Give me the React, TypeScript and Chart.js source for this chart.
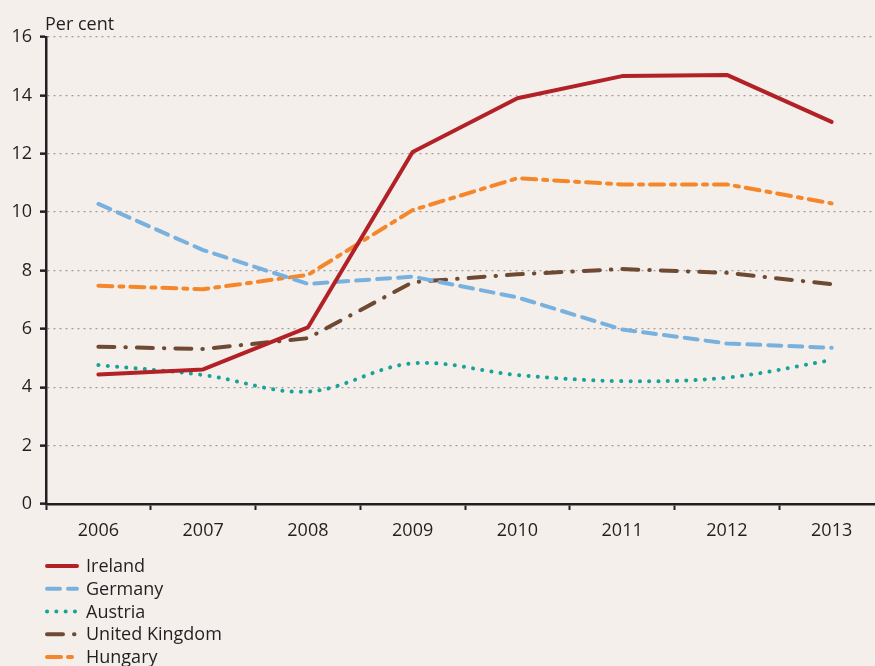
import React, { useEffect, useRef } from 'react';
import { Chart, registerables } from 'chart.js';

Chart.register(...registerables);

const years = ['2006', '2007', '2008', '2009', '2010', '2011', '2012', '2013'];
const ireland = [4.44, 4.61, 6.05, 12.06, 13.9, 14.66, 14.7, 13.09];
const germany = [10.28, 8.7, 7.54, 7.79, 7.08, 5.98, 5.5, 5.35];
const austria = [4.76, 4.42, 3.85, 4.82, 4.42, 4.21, 4.33, 4.93];
const unitedKingdom = [5.39, 5.31, 5.68, 7.6, 7.87, 8.05, 7.92, 7.53];
const hungary = [7.48, 7.36, 7.85, 10.07, 11.16, 10.95, 10.95, 10.3];

const seriesNames = ['Ireland', 'Germany', 'Austria', 'United Kingdom', 'Hungary'];
const yUnit = 'Per cent';

const BG = '#F5EFEC';
const DARK = '#231F20';
const FONT = '"Open Sans", sans-serif';
const FONT_SIZE = 18;

const bgPlugin = {
  id: 'bgFill',
  beforeDraw(chart: any) {
    const ctx = chart.ctx;
    ctx.save();
    ctx.fillStyle = BG;
    ctx.fillRect(0, 0, chart.width, chart.height);
    ctx.restore();
  },
};

const extrasPlugin = {
  id: 'extras',
  afterDraw(chart: any) {
    const ctx = chart.ctx;
    const area = chart.chartArea;
    ctx.save();
    ctx.fillStyle = DARK;
    ctx.font = `${FONT_SIZE}px ${FONT}`;
    ctx.textAlign = 'left';
    ctx.textBaseline = 'alphabetic';
    ctx.fillText(yUnit, area.left - 1, 30);

    const startY = 566;
    const step = 22.75;
    chart.data.datasets.forEach((ds: any, i: number) => {
      const y = startY + i * step;
      ctx.save();
      ctx.strokeStyle = ds.borderColor;
      ctx.lineWidth = ds.borderWidth;
      ctx.lineCap = ds.borderCapStyle || 'butt';
      ctx.setLineDash(ds.borderDash || []);
      ctx.beginPath();
      ctx.moveTo(area.left - 1 + (ds.borderCapStyle === 'round' ? 2 : 0), y);
      ctx.lineTo(area.left + 33 - (ds.borderCapStyle === 'round' ? 2 : 0), y);
      ctx.stroke();
      ctx.restore();
      ctx.fillStyle = DARK;
      ctx.textBaseline = 'middle';
      ctx.fillText(ds.label, area.left + 40, y + 1);
    });
    ctx.restore();
  },
};

export default function App() {
  const ref = useRef<HTMLCanvasElement | null>(null);

  useEffect(() => {
    if (!ref.current) return;
    document.body.style.background = BG;
    const chart = new Chart(ref.current, {
      type: 'line',
      data: {
        labels: years,
        datasets: [
          {
            label: seriesNames[0],
            data: ireland,
            borderColor: '#B22126',
            borderWidth: 4,
            borderCapStyle: 'round',
            borderJoinStyle: 'round',
            pointRadius: 0,
            tension: 0,
          },
          {
            label: seriesNames[1],
            data: germany,
            borderColor: '#79B1DE',
            borderWidth: 4,
            borderDash: [13, 8],
            borderCapStyle: 'round',
            borderJoinStyle: 'round',
            pointRadius: 0,
            tension: 0,
          },
          {
            label: seriesNames[2],
            data: austria,
            borderColor: '#17A398',
            borderWidth: 4,
            borderDash: [0.1, 9.2],
            borderCapStyle: 'round',
            borderJoinStyle: 'round',
            pointRadius: 0,
            tension: 0.35,
          },
          {
            label: seriesNames[3],
            data: unitedKingdom,
            borderColor: '#6E4A33',
            borderWidth: 4,
            borderDash: [16, 11, 0.5, 11],
            borderCapStyle: 'round',
            borderJoinStyle: 'round',
            pointRadius: 0,
            tension: 0,
          },
          {
            label: seriesNames[4],
            data: hungary,
            borderColor: '#F5872A',
            borderWidth: 4,
            borderDash: [14, 7, 4, 7],
            borderCapStyle: 'round',
            borderJoinStyle: 'round',
            pointRadius: 0,
            tension: 0,
          },
        ],
      },
      options: {
        responsive: false,
        devicePixelRatio: 1,
        animation: false,
        layout: { padding: { left: 0, right: 8, top: 37, bottom: 122 } },
        plugins: {
          legend: { display: false },
          tooltip: { enabled: false },
        },
        scales: {
          x: {
            type: 'category',
            offset: true,
            grid: {
              offset: true,
              drawOnChartArea: false,
              drawTicks: true,
              tickLength: 6,
              tickWidth: 2,
              tickColor: DARK,
              color: DARK,
            },
            border: { display: true, color: DARK, width: 2.5 },
            ticks: {
              color: DARK,
              font: { family: FONT, size: FONT_SIZE },
              padding: 10,
              maxRotation: 0,
              autoSkip: false,
            },
            afterFit(scale: any) {
              scale.height = 40;
            },
          },
          y: {
            min: 0,
            max: 16,
            ticks: {
              stepSize: 2,
              color: DARK,
              font: { family: FONT, size: FONT_SIZE },
              padding: 8,
            },
            grid: {
              color: '#9D9D9D',
              lineWidth: 1.3,
              drawTicks: true,
              tickLength: 6,
              tickWidth: 2.5,
              tickColor: DARK,
              tickBorderDash: [],
            },
            border: { display: true, color: DARK, width: 2.5, dash: [2, 4] },
            afterFit(scale: any) {
              scale.width = 46;
            },
          },
        },
      },
      plugins: [bgPlugin, extrasPlugin],
    } as any);
    return () => chart.destroy();
  }, []);

  return (
    <div
      style={{
        position: 'fixed',
        left: 0,
        top: 0,
        width: 875,
        height: 666,
        overflow: 'hidden',
        background: BG,
      }}
    >
      <canvas ref={ref} width={892} height={666} style={{ display: 'block' }} />
    </div>
  );
}
